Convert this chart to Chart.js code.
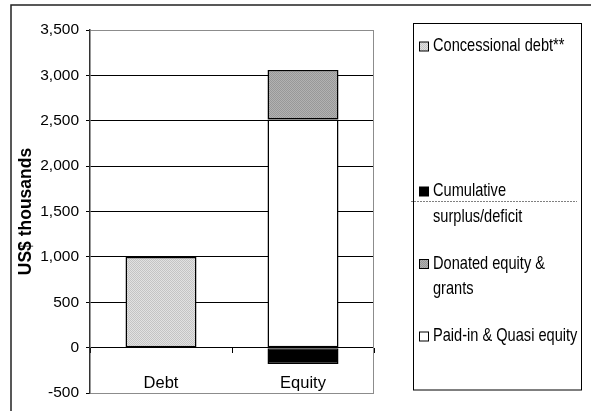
<!DOCTYPE html>
<html>
<head>
<meta charset="utf-8">
<script src="https://cdn.jsdelivr.net/npm/chart.js@4/dist/chart.umd.min.js"></script>
<style>
  html, body { margin: 0; padding: 0; background: #fff; }
  #wrap { width: 591px; height: 411px; }
</style>
</head>
<body>
<div id="wrap"><canvas id="c" width="591" height="411"></canvas></div>
<script>
// Funding structure, US$ thousands
const categories = ['Debt', 'Equity'];
const paidInEquity = [null, 2515];
const donatedEquity = [null, 545];
const cumulativeSurplus = [null, -180];
const concessionalDebt = [1000, null];
const yTickValues = [-500, 0, 500, 1000, 1500, 2000, 2500, 3000, 3500];

const seriesNames = ['Paid-in & Quasi equity', 'Donated equity & grants', 'Cumulative surplus/deficit', 'Concessional debt**'];
// legend lists the series top-down in reverse stacking order
const legendOrder = [3, 2, 1, 0];
const legendSlots = [0, 2, 3, 4];

const FONT = '"Liberation Sans", Arial, Helvetica, sans-serif';

function stipple(c1, c2) {
  const p = document.createElement('canvas');
  p.width = 2; p.height = 2;
  const g = p.getContext('2d');
  g.fillStyle = c1; g.fillRect(0, 0, 2, 2);
  g.fillStyle = c2; g.fillRect(0, 0, 1, 1); g.fillRect(1, 1, 1, 1);
  return g.createPattern(p, 'repeat');
}
const lightStipple = stipple('#e2e2e2', '#c4c4c4');
const midStipple = stipple('#b2b2b2', '#989898');

const frameAndLegend = {
  id: 'frameAndLegend',
  afterDraw(chart) {
    const ctx = chart.ctx, a = chart.chartArea;
    ctx.save();
    // outer frame, left and top edges
    ctx.strokeStyle = '#222';
    ctx.lineWidth = 1.5;
    ctx.beginPath();
    ctx.moveTo(11, 420); ctx.lineTo(11, 5); ctx.lineTo(600, 5);
    ctx.stroke();

    // right edge of the plot area
    ctx.strokeStyle = '#8c8c8c';
    ctx.lineWidth = 1;
    ctx.beginPath();
    ctx.moveTo(a.right - 0.5, a.top); ctx.lineTo(a.right - 0.5, a.bottom);
    ctx.stroke();

    // legend box
    const bx = 413.5, by = 23.5, bw = 168, bh = 366.5;
    ctx.strokeStyle = '#000';
    ctx.lineWidth = 1;
    ctx.strokeRect(bx, by, bw, bh);

    ctx.font = '14.6px ' + FONT;
    ctx.fillStyle = '#000';
    ctx.textBaseline = 'middle';
    ctx.textAlign = 'left';
    const textX = 433, maxW = 150, lineGap = 25.5;
    legendOrder.forEach((di, i) => {
      const ds = chart.data.datasets[di];
      const y0 = 46.5 + legendSlots[i] * 72.5;
      // wrap label to the legend width
      const words = ds.label.split(' ');
      const lines = [];
      let cur = '';
      words.forEach(w => {
        const t = cur ? cur + ' ' + w : w;
        if (ctx.measureText(t).width > maxW && cur) { lines.push(cur); cur = w; }
        else cur = t;
      });
      lines.push(cur);
      // marker
      ctx.fillStyle = ds.backgroundColor;
      ctx.fillRect(419.5, y0 - 4.5, 9, 9);
      ctx.strokeStyle = '#000';
      ctx.strokeRect(419.5, y0 - 4.5, 9, 9);
      ctx.fillStyle = '#000';
      lines.forEach((ln, k) => {
        ctx.save();
        ctx.translate(textX, y0 + k * lineGap);
        ctx.scale(1, 1.2);
        ctx.fillText(ln, 0, 0);
        ctx.restore();
      });
    });

    // dotted rule across the legend
    ctx.strokeStyle = '#000';
    ctx.lineWidth = 1;
    ctx.setLineDash([1, 2]);
    ctx.beginPath();
    ctx.moveTo(411.5, 201.5); ctx.lineTo(577, 201.5);
    ctx.stroke();
    ctx.restore();
  }
};

new Chart(document.getElementById('c'), {
  type: 'bar',
  data: {
    labels: categories,
    datasets: [
      { label: seriesNames[0], data: paidInEquity, backgroundColor: '#ffffff' },
      { label: seriesNames[1], data: donatedEquity, backgroundColor: midStipple },
      { label: seriesNames[2], data: cumulativeSurplus, backgroundColor: '#000000' },
      { label: seriesNames[3], data: concessionalDebt, backgroundColor: lightStipple }
    ]
  },
  options: {
    responsive: false,
    animation: false,
    devicePixelRatio: 1,
    layout: { padding: { left: 11, top: 30, right: 217, bottom: 18 } },
    datasets: {
      bar: {
        borderColor: '#000',
        borderWidth: 1.5,
        borderSkipped: false,
        categoryPercentage: 1,
        barPercentage: 0.5
      }
    },
    plugins: {
      legend: { display: false },
      tooltip: { enabled: false }
    },
    scales: {
      x: {
        stacked: true,
        position: { y: 0 },
        offset: true,
        grid: {
          drawOnChartArea: false,
          drawTicks: true,
          tickLength: 5,
          color: '#000',
          lineWidth: 1
        },
        border: { display: false },
        ticks: {
          color: '#000',
          padding: 21,
          font: { family: FONT, size: 16.5 }
        }
      },
      y: {
        stacked: true,
        min: -500,
        max: 3500,
        afterBuildTicks: s => { s.ticks = yTickValues.map(v => ({ value: v })); },
        afterFit: s => { s.width = 79; },
        grid: {
          color: c => (c.tick && (c.tick.value === 3500 || c.tick.value === -500)) ? '#8c8c8c' : '#000',
          tickColor: '#000',
          lineWidth: 1,
          tickLength: 4
        },
        border: { display: true, color: '#333', width: 1.5 },
        ticks: {
          color: '#000',
          padding: 7,
          font: { family: FONT, size: 15.5 },
          callback: v => Number(v).toLocaleString('en-US')
        },
        title: {
          display: true,
          text: 'US$ thousands',
          color: '#000',
          padding: { top: 5, bottom: 0 },
          font: { family: FONT, size: 17.5, weight: 'bold' }
        }
      }
    }
  },
  plugins: [frameAndLegend]
});
</script>
</body>
</html>
